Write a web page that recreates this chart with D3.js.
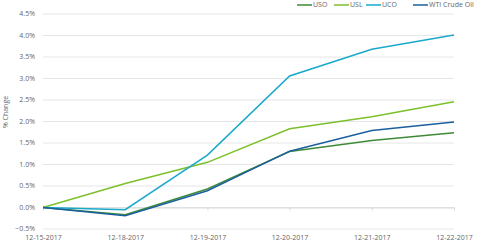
<!DOCTYPE html>
<html><head><meta charset="utf-8">
<script src="https://cdn.jsdelivr.net/npm/d3@7"></script>
<style>body{margin:0;background:#fff}svg{display:block;font-family:"Open Sans",sans-serif}</style>
</head><body>
<svg id="c" width="480" height="251"></svg>
<script>
const dates = ["12-15-2017","12-18-2017","12-19-2017","12-20-2017","12-21-2017","12-22-2017"];
const uso = [0, -0.17, 0.43, 1.30, 1.56, 1.74];
const usl = [0, 0.56, 1.05, 1.83, 2.11, 2.46];
const uco = [0, -0.05, 1.22, 3.06, 3.68, 4.01];
const wti = [0, -0.19, 0.39, 1.31, 1.79, 1.99];
const yTicks = [-0.5, 0, 0.5, 1, 1.5, 2, 2.5, 3, 3.5, 4, 4.5];
const seriesNames = ["USO","USL","UCO","WTI Crude Oil"];
const colors = ["#3d8b37","#7cc02b","#1aa9cc","#1c5f9e"];
const seriesData = [uso, usl, uco, wti];

const svg = d3.select("#c");
const x = d3.scalePoint().domain(dates).range([43, 454]);
const y = d3.scaleLinear().domain([-0.5, 4.5]).range([229, 14]);

// grid
svg.append("g").selectAll("line").data(yTicks).join("line")
  .attr("x1", 43).attr("x2", 454)
  .attr("y1", d => y(d)).attr("y2", d => y(d))
  .attr("stroke", "#e6e6e6").attr("stroke-width", 1);

// y labels
svg.append("g").selectAll("text").data(yTicks).join("text")
  .attr("x", 35).attr("y", d => y(d)).attr("dy", "0.35em")
  .attr("text-anchor", "end").attr("font-size", 7).attr("fill", "#666")
  .text(d => d3.format(".1f")(d) + "%");

// x axis at zero
const xa = svg.append("g").attr("transform", `translate(0,${y(0)})`)
  .call(d3.axisBottom(x).tickSize(3).tickSizeOuter(0).tickPadding(25));
xa.select(".domain").attr("stroke", "#d9d9d9");
xa.selectAll(".tick line").attr("stroke", "#d9d9d9");
xa.selectAll(".tick text").attr("font-size", 7).attr("fill", "#666").attr("font-family", "Open Sans, sans-serif");

// y title
svg.append("text").attr("transform", "translate(8,112) rotate(-90)")
  .attr("text-anchor", "middle").attr("font-size", 7).attr("fill", "#666").text("% Change");

// lines
const line = d3.line().x((d, i) => x(dates[i])).y(d => y(d));
svg.append("g").selectAll("path").data(seriesData).join("path")
  .attr("d", line).attr("fill", "none")
  .attr("stroke", (d, i) => colors[i]).attr("stroke-width", 1.5);

// legend
const legX = [297, 334, 366, 413];
const leg = svg.append("g").selectAll("g").data(seriesNames).join("g")
  .attr("transform", (d, i) => `translate(${legX[i]},5)`);
leg.append("line").attr("x1", 0).attr("x2", 15).attr("y1", 0).attr("y2", 0)
  .attr("stroke", (d, i) => colors[i]).attr("stroke-width", 1.5);
leg.append("text").attr("x", 16).attr("y", 0).attr("dy", "0.35em")
  .attr("font-size", 7).attr("fill", "#666").text(d => d);
</script>
</body></html>
